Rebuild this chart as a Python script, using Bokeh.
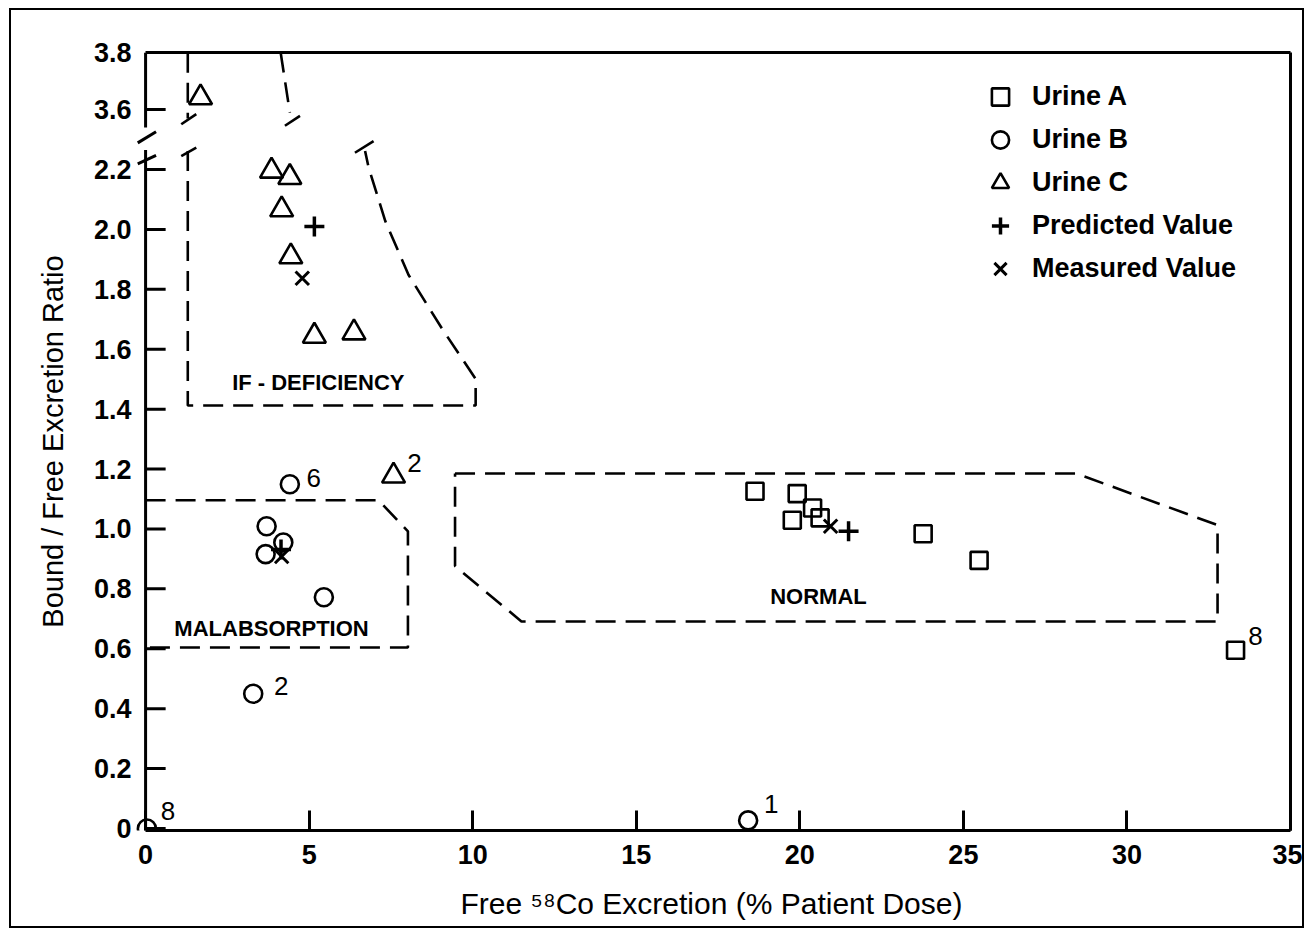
from bokeh.plotting import figure
from bokeh.models import FixedTicker, LinearAxis, Legend, LegendItem, Range1d
from bokeh.core.properties import value
from bokeh.embed import file_html
from bokeh.resources import INLINE

# ---------------- data ----------------
urine_a_x = [18.63, 19.92, 20.39, 19.77, 20.62, 23.77, 25.48, 33.32]
urine_a_y = [1.126, 1.118, 1.070, 1.029, 1.037, 0.984, 0.895, 0.595]
urine_b_x = [0.04, 3.29, 3.70, 3.67, 4.21, 5.45, 4.41, 18.42]
urine_b_y = [0.0, 0.450, 1.009, 0.916, 0.955, 0.772, 1.149, 0.027]
urine_c_x = [1.68, 3.85, 4.41, 4.16, 4.44, 5.16, 6.37, 7.58]
urine_c_y = [3.64, 2.195, 2.174, 2.066, 1.909, 1.644, 1.655, 1.177]
pred_x = [5.16, 4.14, 21.49]
pred_y = [2.010, 0.931, 0.992]
meas_x = [4.79, 4.16, 20.94]
meas_y = [1.837, 0.908, 1.009]

# point annotations (number of patients): x, y, text
note_x = [0.04, 3.29, 4.41, 18.42, 7.58, 33.32]
note_y = [0.0, 0.450, 1.149, 0.027, 1.177, 0.595]
note_text = ["8", "2", "6", "1", "2", "8"]

x_ticks = [0, 5, 10, 15, 20, 25, 30, 35]
y_tick_values = [0, 0.2, 0.4, 0.6, 0.8, 1.0, 1.2, 1.4, 1.6, 1.8, 2.0, 2.2, 3.6, 3.8]
y_tick_labels = ["0", "0.2", "0.4", "0.6", "0.8", "1.0", "1.2", "1.4", "1.6", "1.8",
                 "2.0", "2.2", "3.6", "3.8"]

# region boundaries (data units)
if_x = [1.29, 1.29, 10.09, 10.09, 9.06, 8.04, 7.33, 6.82, 6.71]
if_y = [2.262, 1.412, 1.412, 1.501, 1.669, 1.848, 2.027, 2.206, 2.262]
if_up_left_x = [1.29, 1.29]
if_up_left_y = [3.79, 3.57]
if_up_right_x = [4.13, 4.41]
if_up_right_y = [3.79, 3.59]
mal_x = [0.0, 7.12, 8.02, 8.02, 0.0]
mal_y = [1.096, 1.096, 0.992, 0.604, 0.604]
norm_x = [9.46, 28.45, 32.77, 32.77, 11.49, 9.46, 9.46]
norm_y = [1.185, 1.185, 1.013, 0.691, 0.691, 0.876, 1.185]

region_names = ["IF - DEFICIENCY", "MALABSORPTION", "NORMAL"]
region_x = [5.28, 3.85, 20.57]
region_y = [1.49, 0.668, 0.775]

# ------------- broken y-axis mapping -------------
BREAK_SHIFT = 1.2


def brk(v):
    return v - BREAK_SHIFT if v > 3.0 else v


Y_TOP = 2.5906
Y_BOT = -0.0067
X_LEFT = -0.4
TICK_LEN = 0.613  # 20 px in x data units

FONT = "Liberation Sans"

p = figure(width=1295, height=920, x_range=Range1d(X_LEFT, 35), y_range=Range1d(Y_BOT, Y_TOP),
           output_backend="svg", toolbar_location=None,
           min_border_left=121, min_border_right=16, min_border_top=42, min_border_bottom=100,
           background_fill_color="white", border_fill_color="white", outline_line_color=None,
           styles={"border": "2px solid black", "margin-left": "9px", "margin-top": "8px"})
p.grid.visible = False

# x axis
xa = p.xaxis[0]
xa.ticker = FixedTicker(ticks=x_ticks)
xa.bounds = (0, 35)
xa.axis_line_width = 3
xa.axis_line_color = "black"
xa.major_tick_in = 20
xa.major_tick_out = 0
xa.major_tick_line_width = 3
xa.minor_tick_line_color = None
xa.major_label_text_font = FONT
xa.major_label_text_font_size = "27px"
xa.major_label_text_font_style = "bold"
xa.major_label_text_color = "black"
xa.major_label_standoff = 14
xa.axis_label = "Free \u2075\u2078Co Excretion (% Patient Dose)"
xa.axis_label_text_font = FONT
xa.axis_label_text_font_size = "30px"
xa.axis_label_text_font_style = "normal"
xa.axis_label_text_color = "black"
xa.axis_label_standoff = 20

# y axis: labels from the axis, line and ticks drawn at x = 0
ya = p.yaxis[0]
disp_ticks = [brk(v) if v < 3.7 else Y_TOP for v in y_tick_values]
ya.ticker = FixedTicker(ticks=disp_ticks)
ya.major_label_overrides = {t: lab for t, lab in zip(disp_ticks, y_tick_labels)}
ya.axis_line_color = None
ya.major_tick_line_color = None
ya.major_tick_in = 0
ya.major_tick_out = 0
ya.minor_tick_line_color = None
ya.major_label_text_font = FONT
ya.major_label_text_font_size = "27px"
ya.major_label_text_font_style = "bold"
ya.major_label_text_color = "black"
ya.major_label_standoff = 1
ya.axis_label = "Bound / Free Excretion Ratio"
ya.axis_label_text_font = FONT
ya.axis_label_text_font_size = "29px"
ya.axis_label_text_font_style = "normal"
ya.axis_label_text_color = "black"
ya.axis_label_standoff = 22

# frame lines on top and right
for side in ("above", "right"):
    ax = LinearAxis(ticker=FixedTicker(ticks=[]), axis_line_width=3,
                    major_tick_line_color=None, minor_tick_line_color=None,
                    major_label_text_font_size="0px")
    if side == "above":
        ax.bounds = (0, 35)
    p.add_layout(ax, side)

# y tick marks (inward) at x = 0
tick_pos = disp_ticks[:-1]
p.segment([0] * len(tick_pos), tick_pos, [TICK_LEN] * len(tick_pos), tick_pos,
          line_color="black", line_width=3)

# broken left axis line + break marks
axis_seg_x0 = [0, 0, -0.24, -0.24]
axis_seg_y0 = [Y_BOT, 2.34, 2.219, 2.289]
axis_seg_x1 = [0, 0, 0.32, 0.32]
axis_seg_y1 = [2.265, Y_TOP, 2.247, 2.326]
p.segment(axis_seg_x0, axis_seg_y0, axis_seg_x1, axis_seg_y1, line_color="black", line_width=3)

brk_x0 = [1.09, 1.09, 4.26, 6.40]
brk_y0 = [2.351, 2.245, 2.346, 2.256]
brk_x1 = [1.55, 1.55, 4.72, 6.97]
brk_y1 = [2.385, 2.273, 2.379, 2.295]
p.segment(brk_x0, brk_y0, brk_x1, brk_y1, line_color="black", line_width=2.6)

# dashed region boundaries
dash = dict(line_color="black", line_width=2.6, line_dash="20 10")
p.line(if_x, if_y, **dash)
p.line(if_up_left_x, [brk(v) for v in if_up_left_y], **dash)
p.line(if_up_right_x, [brk(v) for v in if_up_right_y], **dash)
p.line(mal_x, mal_y, **dash)
p.line(norm_x, norm_y, **dash)

p.text(region_x, region_y, text=region_names, text_font=value(FONT), text_font_size="22px",
       text_font_style="bold", text_align="center", text_baseline="middle",
       text_color="black")

# markers
ra = p.scatter(urine_a_x, urine_a_y, marker="square", size=17, fill_color=None,
               line_color="black", line_width=2.6)
rb = p.scatter(urine_b_x, urine_b_y, marker="circle", size=18, fill_color=None,
               line_color="black", line_width=2.6)
rc = p.scatter(urine_c_x, [brk(v) for v in urine_c_y], marker="triangle", size=23,
               fill_color=None, line_color="black", line_width=2.6)
rp = p.scatter(pred_x, pred_y, marker="cross", size=20, line_color="black", line_width=3.5)
rm = p.scatter(meas_x, meas_y, marker="x", size=19, line_color="black", line_width=3)

# patient-count notes
note_dx = [21, 28, 24, 23, 21, 20]
note_dy = [-17, -8, -6, -16, -13, -14]
p.text(note_x, note_y, text=note_text, x_offset=note_dx, y_offset=note_dy,
       text_font=value(FONT), text_font_size="26px", text_align="center",
       text_baseline="middle", text_color="black")

legend = Legend(items=[LegendItem(label="Urine A", renderers=[ra]),
                       LegendItem(label="Urine B", renderers=[rb]),
                       LegendItem(label="Urine C", renderers=[rc]),
                       LegendItem(label="Predicted Value", renderers=[rp]),
                       LegendItem(label="Measured Value", renderers=[rm])],
                location=(846, 540), background_fill_alpha=0, border_line_color=None,
                padding=0, margin=0, spacing=0, glyph_width=44, glyph_height=43,
                label_height=43, label_standoff=10, label_text_font=FONT,
                label_text_font_size="27px", label_text_font_style="bold",
                label_text_color="black", label_text_baseline="middle")
p.add_layout(legend)

open("out.html", "w").write(file_html(p, INLINE))
